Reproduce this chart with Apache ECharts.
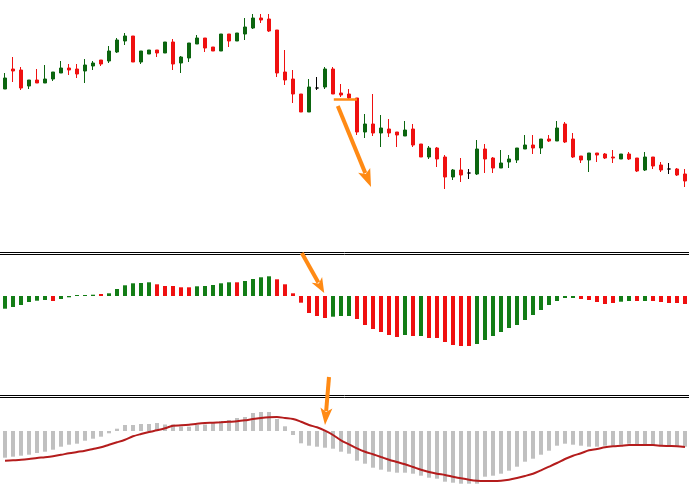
<!DOCTYPE html>
<html><head><meta charset="utf-8">
<script src="https://cdn.jsdelivr.net/npm/echarts@6/dist/echarts.min.js"></script>
<style>html,body{margin:0;padding:0;background:#fff}#c{width:689px;height:493px}</style>
</head><body><div id="c"></div>
<script>
// ---- Price candles (points) ----
const open = [161,181,180,164,170,167,171,177,182,181,
  179,184,190,189,198,209,214,188,196,200,
  197,208,187,192,206,212,203,199,216,209,
  216,222,232,231,220,178,171,156,138,162,
  163,181,157,156,152,118,126,117,121,118,
  114,121,106,93,102,93,73,80,77,76,
  101,92,82,88,90,101,105,102,111,109,
  126,111,94,90,97,96,93,91,96,92,
  80,93,85,81,81,76];
const close = [172,179,162,170,167,171,178,182,180,176,
  185,187,186,199,210,214,188,199,200,197,
  208,186,193,207,212,202,199,216,209,217,
  223,232,230,219,177,170,156,138,163,162,
  181,156,155,152,118,126,117,122,117,115,
  120,105,93,102,91,73,80,75,77,101,
  91,82,87,91,102,105,102,111,109,122,
  108,93,90,97,95,92,92,96,91,79,
  93,84,80,81,75,69];
const low = [161,168,160,161,167,167,169,177,175,172,
  167,180,184,187,197,205,188,186,196,193,
  197,180,177,188,206,198,199,199,203,209,
  210,221,227,218,173,165,147,138,138,160,
  161,156,153,151,115,112,114,103,113,103,
  114,103,93,91,83,61,70,68,71,75,
  77,77,82,82,87,101,96,96,108,109,
  107,92,87,78,88,91,87,91,90,78,
  79,81,78,76,74,63];
const high = [177,193,183,170,181,185,178,189,186,186,
  191,189,190,204,212,217,214,199,200,200,
  208,211,194,207,215,212,203,216,216,217,
  232,236,236,236,220,200,180,156,171,173,
  183,183,166,161,152,136,156,135,131,118,
  129,126,106,104,103,95,81,92,81,110,
  106,93,100,95,102,115,115,111,115,129,
  128,117,94,97,97,97,100,96,98,92,
  98,93,88,87,82,81];

// ---- Middle oscillator histogram ----
const oscValues = [-12.7,-11,-9,-6,-4.7,-4,-5,-3,-1.3,1,
  1,1.3,2,2.7,7,10.7,12.7,13,13.7,11.7,
  10,10,8.7,8.7,9.7,10,11,12.7,13.7,13.7,
  15,17,18.7,19.7,16.7,11.7,2.7,-6.7,-17,-20,
  -22,-20.7,-20,-20,-23,-29,-33,-36,-39,-41,
  -39,-40,-40,-42,-42,-46,-49,-50,-50,-48,
  -44,-40,-36,-32,-29,-24,-19,-14,-9,-5,
  -2,-2,-3,-4,-6,-8,-7,-5.7,-5,-5,
  -5,-5,-6,-7,-7,-8];
const oscDir = ['G','G','G','G','G','G','R','G','G','G',
  'G','G','R','G','G','G','G','G','G','R',
  'R','R','R','R','G','G','G','G','G','R',
  'G','G','G','G','R','R','R','R','R','R',
  'R','G','G','G','R','R','R','R','R','R',
  'G','R','G','R','R','R','R','R','R','G',
  'G','G','G','G','G','G','G','G','G','G',
  'G','G','R','R','R','R','R','G','G','R',
  'G','R','R','R','R','R'];

// ---- Bottom MACD bars and signal line ----
const macdValues = [-26.7,-25.7,-24.7,-23.7,-22,-20.7,-18.7,-15.7,-13.7,-12.7,
  -9.7,-7.7,-5.7,-2.3,2.3,6,6,7,7,8,
  6.5,6.5,4.5,4.3,6,6.5,9,10,11,13,
  14,18,19,19,12,4.7,-4,-12.3,-14.7,-15.7,
  -16.7,-17.7,-20.7,-22.7,-29.7,-32.7,-36.7,-38.7,-40.7,-41.7,
  -41.7,-42.7,-44.7,-46.7,-47.7,-50.7,-51.7,-52.7,-52.7,-52.7,
  -45.7,-44.7,-42.7,-39.7,-35.7,-30.7,-27.7,-23.7,-19.7,-14.7,
  -12.7,-13.7,-14.7,-15.7,-15.7,-14.7,-14.7,-13.7,-12.7,-13.7,
  -13.7,-14.7,-14.7,-14.7,-15.7,-15.7];
const signalValues = [-29.8,-29.3,-28.8,-28,-27,-26.2,-25.2,-23.8,-22.3,-21,
  -19.7,-18,-16.3,-13.7,-11.3,-8.7,-5.3,-3,-1,0.7,
  2.7,5.3,5.7,6.3,7.3,8,8.3,8.7,9.2,9.7,
  10.7,12,13,13.7,14,13,12,9.3,6,3.7,
  0.3,-4,-9.3,-13.3,-17.3,-20.7,-23.3,-26,-28.7,-31,
  -33.3,-36,-38.7,-41,-42.7,-44,-45.7,-47.3,-48.7,-49.7,
  -50,-50,-49.7,-48.7,-47,-45,-42.7,-39.3,-35.7,-32,
  -28,-24.7,-22.3,-19.3,-18,-16.3,-15.3,-14.7,-14,-14,
  -14,-14,-14.7,-15,-15.3,-16];

// ---- Annotations (bar index, value) ----
const annoFlat = {grid:0, from:[41.1,150.5], to:[44,150.5]};
const annoArrows = [
  {grid:0, from:[41.6,144], to:[45.75,63], width:4, head:18, headW:13},
  {grid:1, from:[37.1,43], to:[39.9,3], width:4, head:15, headW:12},
  {grid:2, from:[40.5,54], to:[40.0,6], width:4, head:17, headW:12}
];

const categories = open.map((_, i) => 'B' + (i + 1));
const GREEN_C = '#0b650f', RED = '#ef1010', GREEN_H = '#137d16', ORANGE = '#ff8a14';

const candleData = open.map((o, i) => {
  const item = {value: [o, close[i], low[i], high[i]]};
  if (o === close[i]) item.itemStyle = {borderColorDoji: '#000', borderColor: '#000', borderColor0: '#000'};
  return item;
});
const oscData = oscValues.map((v, i) => ({value: v, itemStyle: {color: oscDir[i] === 'G' ? GREEN_H : RED}}));

const chart = echarts.init(document.getElementById('c'));
const grids = [
  {left: 1, width: 688, top: 0, height: 250},
  {left: 1, width: 688, top: 255, height: 140},
  {left: 1, width: 688, top: 398, height: 95}
];
const xAx = [0,1,2].map(g => ({type:'category', gridIndex:g, data:categories, boundaryGap:true, show:false}));
const yAx = [
  {type:'value', gridIndex:0, min:0, max:250, show:false},
  {type:'value', gridIndex:1, min:-99, max:41, show:false},
  {type:'value', gridIndex:2, min:-62, max:33, show:false}
];
chart.setOption({
  animation: false,
  backgroundColor: '#fff',
  grid: grids, xAxis: xAx, yAxis: yAx,
  series: [
    {type:'candlestick', xAxisIndex:0, yAxisIndex:0, data:candleData, barWidth:4,
     itemStyle:{color:GREEN_C, color0:RED, borderColor:GREEN_C, borderColor0:RED, borderColorDoji:'#000', borderWidth:1}},
    {type:'bar', xAxisIndex:1, yAxisIndex:1, data:oscData, barWidth:4},
    {type:'bar', xAxisIndex:2, yAxisIndex:2, data:macdValues, barWidth:4, itemStyle:{color:'#c0c0c0'}},
    {type:'line', xAxisIndex:2, yAxisIndex:2, data:signalValues, symbol:'none', smooth:0.3, z:5,
     lineStyle:{color:'#b41c1c', width:2}}
  ]
});

function toPx(g, pt) {
  const i0 = Math.floor(pt[0]), f = pt[0] - i0;
  const a = chart.convertToPixel({gridIndex: g}, [i0, pt[1]]);
  const b = chart.convertToPixel({gridIndex: g}, [i0 + 1, pt[1]]);
  return [a[0] + (b[0] - a[0]) * f, a[1]];
}
function arrow(a) {
  const p = toPx(a.grid, a.from), q = toPx(a.grid, a.to);
  const dx = q[0]-p[0], dy = q[1]-p[1], L = Math.hypot(dx, dy), ux = dx/L, uy = dy/L;
  const bx = q[0]-ux*a.head, by = q[1]-uy*a.head, nx = -uy, ny = ux, hw = a.headW/2;
  return [
    {type:'line', z:100, shape:{x1:p[0], y1:p[1], x2:bx+ux*3, y2:by+uy*3}, style:{stroke:ORANGE, lineWidth:a.width}},
    {type:'polygon', z:100, shape:{points:[[q[0],q[1]],[bx+nx*hw, by+ny*hw],[bx+ux*4, by+uy*4],[bx-nx*hw, by-ny*hw]]}, style:{fill:ORANGE}}
  ];
}
const g = [];
[252.5, 254.5, 395.5, 397.5].forEach(y => g.push({type:'line', z:50, shape:{x1:0, y1:y, x2:689, y2:y}, style:{stroke:'#000', lineWidth:1}}));
const f0 = toPx(annoFlat.grid, annoFlat.from), f1 = toPx(annoFlat.grid, annoFlat.to);
g.push({type:'line', z:100, shape:{x1:f0[0], y1:f0[1], x2:f1[0], y2:f1[1]}, style:{stroke:ORANGE, lineWidth:2.5}});
annoArrows.forEach(a => g.push(...arrow(a)));
chart.setOption({graphic: g});
</script></body></html>
